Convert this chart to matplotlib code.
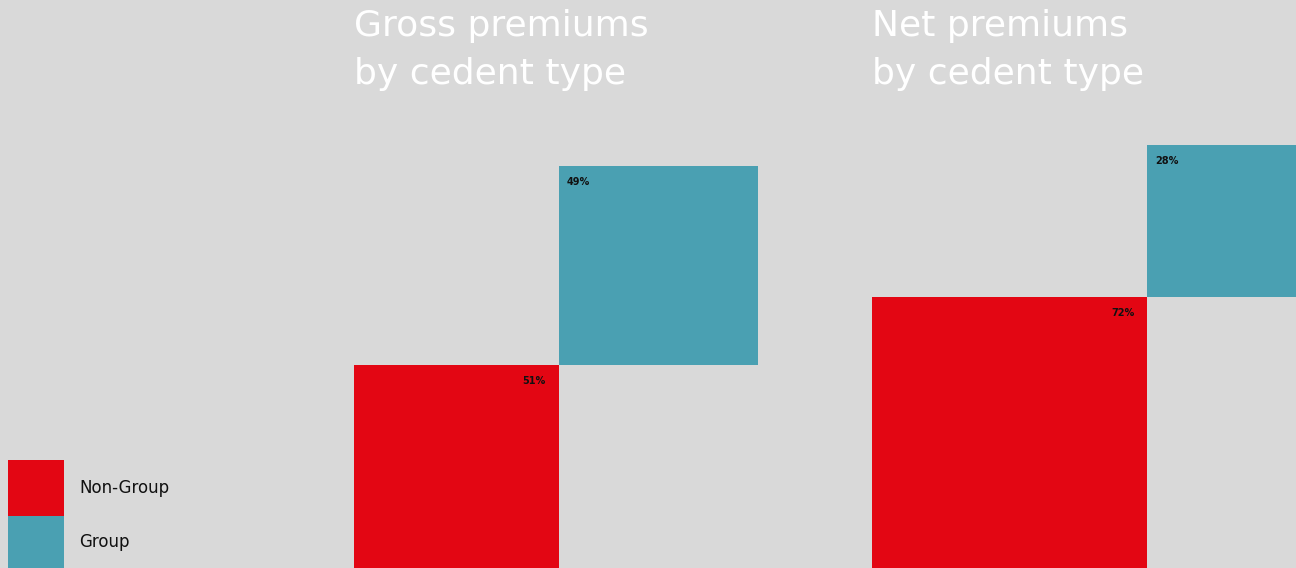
import matplotlib
matplotlib.use("Agg")
import matplotlib.pyplot as plt
from matplotlib.patches import Rectangle

plt.rcParams['font.family'] = ['DejaVu Sans']

# share of premiums by cedent type
categories = ["Non-Group", "Group"]
gross_values = [51, 49]
net_values = [72, 28]
titles = [("Gross premiums", "by cedent type"), ("Net premiums", "by cedent type")]

RED = "#E30613"
TEAL = "#4AA0B2"
BG = "#D9D9D9"

W, H = 1296, 568
fig = plt.figure(figsize=(W / 100, H / 100), dpi=100, facecolor=BG)
ax = fig.add_axes([0, 0, 1, 1])
ax.set_xlim(0, W)
ax.set_ylim(H, 0)
ax.axis("off")

# side length grows a bit slower than the value so both squares stay readable
EXP = 0.63


def stair(x0, base, values, k, title):
    s_red = k * values[0] ** EXP
    s_teal = k * values[1] ** EXP
    top_red = base - s_red
    ax.add_patch(Rectangle((x0, top_red), s_red, s_red, color=RED, lw=0))
    ax.add_patch(Rectangle((x0 + s_red, top_red - s_teal), s_teal, s_teal,
                           color=TEAL, lw=0))
    ax.text(x0 + s_red - 13, top_red + 16, f"{values[0]}%", ha="right",
            va="center", fontsize=7, fontweight="bold", color="#111111")
    ax.text(x0 + s_red + 8, top_red - s_teal + 16, f"{values[1]}%", ha="left",
            va="center", fontsize=7, fontweight="bold", color="#111111")
    for j, line in enumerate(title):
        ax.text(x0, 36 + j * 48, line, ha="left", va="baseline", fontsize=26,
                color="white")


stair(354, 570, gross_values, 17.2, titles[0])
stair(872, 572, net_values, 18.6, titles[1])

# legend swatches
for i, (cat, col) in enumerate(zip(categories, [RED, TEAL])):
    y = 460 + i * 56
    ax.add_patch(Rectangle((8, y), 56, 56, color=col, lw=0))
    ax.text(79, y + 28 - i * 2, cat, ha="left", va="center", fontsize=12,
            color="#111111")

fig.savefig("out.png", dpi=100, facecolor=BG)
